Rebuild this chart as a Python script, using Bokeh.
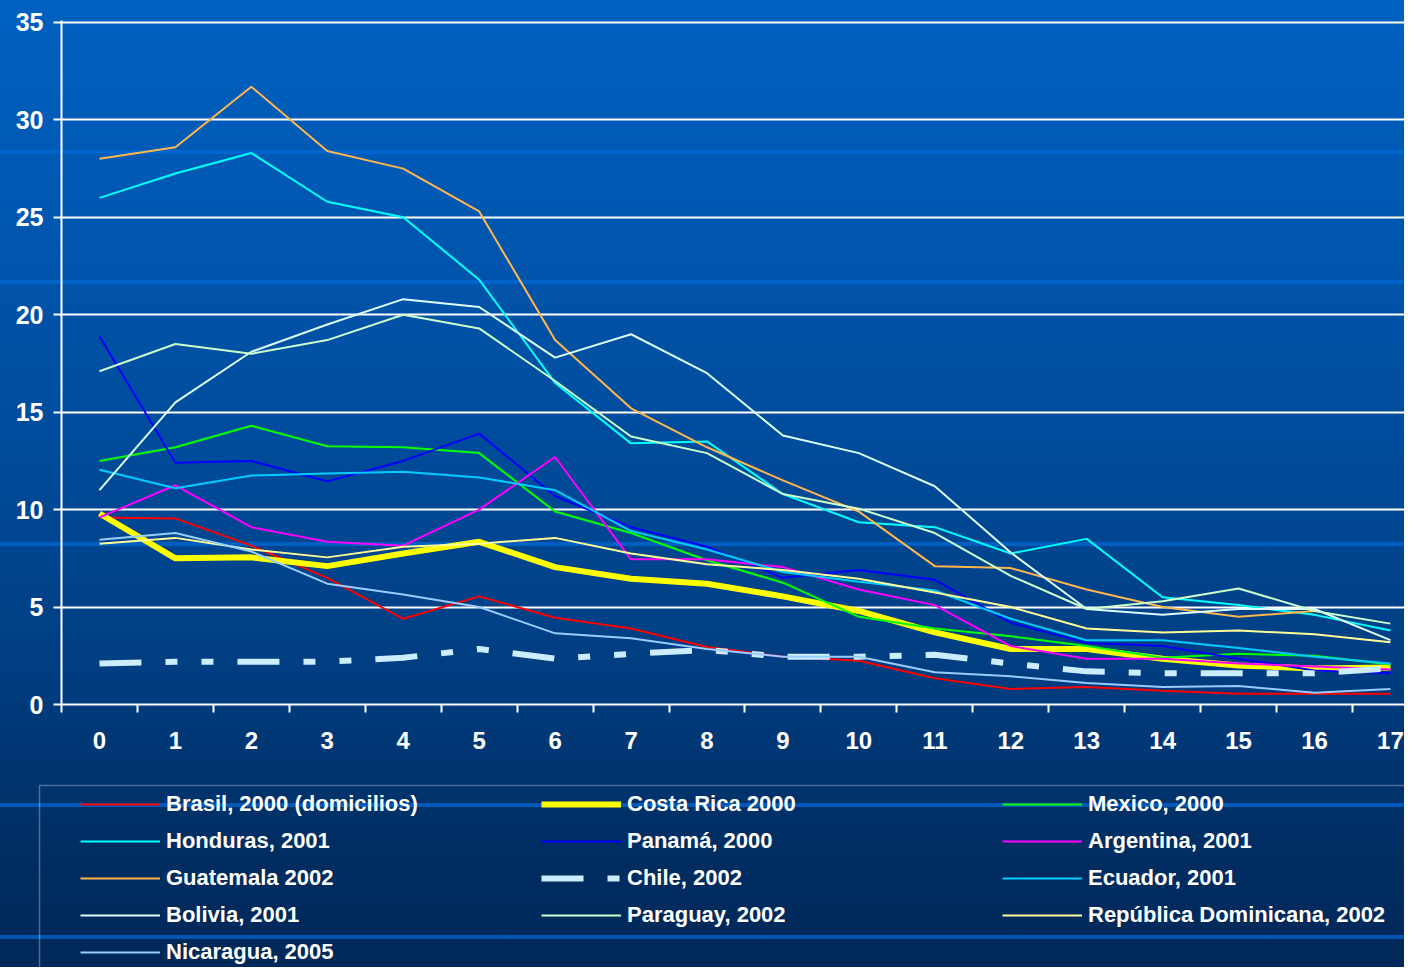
from bokeh.plotting import figure
from bokeh.models import FixedTicker, Legend, LegendItem, Range1d, BoxAnnotation
from bokeh.layouts import column
from bokeh.embed import file_html
from bokeh.resources import INLINE

ages = list(range(18))

brasil = [9.6, 9.55, 8.15, 6.5, 4.4, 5.55, 4.45, 3.9, 2.95, 2.45, 2.25, 1.35, 0.8, 0.9, 0.7, 0.55, 0.55, 0.55]
costa_rica = [9.8, 7.5, 7.55, 7.1, 7.75, 8.35, 7.05, 6.45, 6.2, 5.55, 4.8, 3.7, 2.85, 2.85, 2.35, 2.0, 1.85, 1.9]
mexico = [12.5, 13.2, 14.3, 13.25, 13.2, 12.9, 9.9, 8.8, 7.4, 6.25, 4.5, 3.9, 3.5, 3.0, 2.4, 2.6, 2.5, 2.05]
honduras = [26.0, 27.25, 28.3, 25.8, 25.0, 21.8, 16.5, 13.4, 13.5, 10.8, 9.35, 9.1, 7.75, 8.5, 5.5, 5.1, 4.6, 3.8]
panama = [18.9, 12.4, 12.5, 11.45, 12.5, 13.9, 10.7, 9.1, 8.1, 6.5, 6.9, 6.4, 4.2, 3.15, 3.0, 2.35, 1.75, 1.6]
argentina = [9.6, 11.25, 9.1, 8.35, 8.15, 10.0, 12.7, 7.45, 7.45, 7.05, 5.9, 5.1, 3.0, 2.35, 2.35, 2.1, 1.95, 1.8]
guatemala = [28.0, 28.6, 31.7, 28.4, 27.5, 25.3, 18.7, 15.2, 13.2, 11.5, 9.9, 7.1, 7.0, 5.9, 5.0, 4.5, 4.8]
chile = [2.1, 2.2, 2.2, 2.2, 2.4, 2.85, 2.35, 2.6, 2.8, 2.45, 2.45, 2.55, 2.1, 1.7, 1.6, 1.6, 1.6, 1.85]
ecuador = [12.05, 11.1, 11.75, 11.85, 11.95, 11.65, 11.0, 8.9, 7.95, 6.8, 6.3, 5.85, 4.4, 3.3, 3.3, 2.9, 2.45, 2.1]
bolivia = [11.0, 15.5, 18.1, 19.5, 20.8, 20.4, 17.8, 19.0, 17.0, 13.8, 12.9, 11.2, 7.8, 4.9, 4.6, 4.9, 4.9, 3.3]
paraguay = [17.1, 18.5, 18.0, 18.7, 20.0, 19.3, 16.6, 13.75, 12.9, 10.8, 10.05, 8.8, 6.6, 4.9, 5.3, 5.95, 4.8, 4.15]
rep_dom = [8.25, 8.55, 7.95, 7.55, 8.1, 8.25, 8.55, 7.75, 7.2, 6.9, 6.45, 5.75, 5.0, 3.9, 3.7, 3.8, 3.6, 3.2]
nicaragua = [8.45, 8.8, 7.85, 6.2, 5.65, 5.0, 3.65, 3.4, 2.85, 2.45, 2.45, 1.65, 1.45, 1.1, 0.9, 0.95, 0.6, 0.8]

series = [
    ("Brasil, 2000 (domicilios)", brasil, "#FF0000", 2, None),
    ("Costa Rica 2000", costa_rica, "#FFFF00", 6, None),
    ("Mexico, 2000", mexico, "#00FF00", 2, None),
    ("Honduras, 2001", honduras, "#00FFFF", 2, None),
    ("Panamá, 2000", panama, "#0000FF", 2, None),
    ("Argentina, 2001", argentina, "#FF00FF", 2, None),
    ("Guatemala 2002", guatemala, "#FFB64D", 2, None),
    ("Chile, 2002", chile, "#CCECFF", 6, "42 24 12 24 12 24"),
    ("Ecuador, 2001", ecuador, "#00CCFF", 2, None),
    ("Bolivia, 2001", bolivia, "#DDFFFF", 2, None),
    ("Paraguay, 2002", paraguay, "#CCFFCC", 2, None),
    ("República Dominicana, 2002", rep_dom, "#FFFF99", 2, None),
    ("Nicaragua, 2005", nicaragua, "#99CCFF", 2, None),
]

FONT = "Liberation Sans"
W = 1404
H1 = 770
H2 = 197

# ---------------- chart ----------------
p = figure(width=W, height=H1, output_backend="svg", toolbar_location=None,
           x_range=Range1d(-0.5, 17.185), y_range=Range1d(0, 35.1),
           min_border_left=61, min_border_right=0, min_border_top=20, min_border_bottom=66)
p.frame_align = False
p.background_fill_color = None
p.border_fill_color = None
p.outline_line_color = None

p.xaxis.ticker = FixedTicker(ticks=ages, minor_ticks=[a - 0.5 for a in ages])
p.xaxis.major_tick_out = 0
p.xaxis.major_tick_in = 0
p.xaxis.minor_tick_out = 8
p.xaxis.minor_tick_in = 0
p.xaxis.minor_tick_line_color = "white"
p.xaxis.minor_tick_line_width = 2
p.xaxis.major_label_standoff = 19

p.yaxis.ticker = FixedTicker(ticks=[0, 5, 10, 15, 20, 25, 30, 35])
p.yaxis.major_tick_out = 8
p.yaxis.major_tick_in = 0
p.yaxis.minor_tick_out = 0
p.yaxis.minor_tick_in = 0
p.yaxis.major_tick_line_color = "white"
p.yaxis.major_tick_line_width = 2
p.yaxis.major_label_standoff = 10

for ax in (p.xaxis[0], p.yaxis[0]):
    ax.axis_line_color = "white"
    ax.axis_line_width = 2
    ax.major_label_text_color = "white"
    ax.major_label_text_font = FONT
    ax.major_label_text_font_style = "bold"
p.xaxis.major_label_text_font_size = "24px"
p.yaxis.major_label_text_font_size = "25px"

p.xgrid.visible = False
p.ygrid.ticker = FixedTicker(ticks=[0, 5, 10, 15, 20, 25, 30, 35])
p.ygrid.grid_line_color = "white"
p.ygrid.grid_line_width = 2

for name, vals, color, width, dash in series:
    kw = dict(line_color=color, line_width=width)
    if dash:
        kw["line_dash"] = dash
    p.line(ages[:len(vals)], vals, **kw)

# ---------------- legend panel ----------------
p2 = figure(width=W, height=H2, output_backend="svg", toolbar_location=None,
            x_range=Range1d(0, W), y_range=Range1d(H2, 0),
            x_axis_type=None, y_axis_type=None,
            min_border_left=0, min_border_right=0, min_border_top=0, min_border_bottom=0)
p2.frame_align = False
p2.background_fill_color = None
p2.border_fill_color = None
p2.outline_line_color = None
p2.grid.visible = False

items = []
for name, vals, color, width, dash in series:
    kw = dict(line_color=color, line_width=width)
    if dash:
        kw["line_dash"] = dash
    # same series, hidden here: only its line style is shown as the legend sample
    r = p2.line(ages[:len(vals)], vals, visible=False, **kw)
    items.append(LegendItem(label=name, renderers=[r]))

legend = Legend(items=items, orientation="horizontal", ncols=3,
                location=(80, 2), padding=0, margin=0, spacing=11,
                glyph_width=80, glyph_height=26, label_height=26, label_width=364,
                label_standoff=6, background_fill_alpha=0, border_line_alpha=0,
                inactive_fill_alpha=0,
                label_text_color="white", label_text_font=FONT,
                label_text_font_style="bold", label_text_font_size="22px")
p2.add_layout(legend, "center")

frame_box = BoxAnnotation(left=39, right=W + 100, top=15, bottom=H2 + 100,
                          fill_alpha=0, line_color="white", line_width=1.5)
p2.add_layout(frame_box)

bands = []
for y in [150, 280, 542, 803, 935]:
    bands.append(f"linear-gradient(to bottom, transparent {y}px, rgba(0,105,215,0.7) {y}px, "
                 f"rgba(0,105,215,0.7) {y+4}px, transparent {y+4}px)")
bands.append("linear-gradient(to bottom, #0061C1 0%, #0058B2 20%, #004C9C 45%, "
             "#003D80 70%, #002D62 88%, #002858 100%)")

layout = column(p, p2, spacing=0)
layout.styles = {"background": ", ".join(bands)}

open("out.html", "w").write(file_html(layout, INLINE))
